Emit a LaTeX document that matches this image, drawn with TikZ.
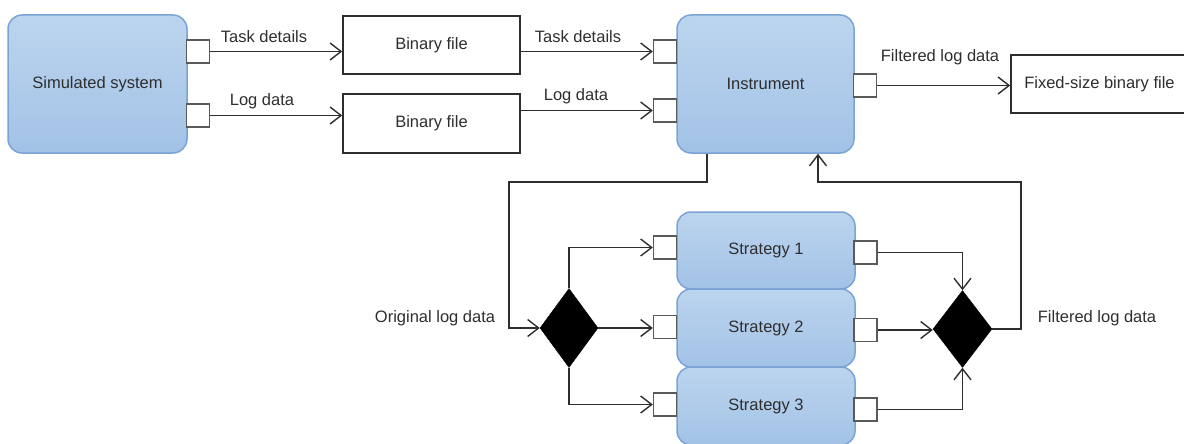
\documentclass[tikz,border=0pt]{standalone}
\usepackage{fontspec}
\setmainfont{Liberation Sans}
\usetikzlibrary{arrows.meta,shapes.geometric}
\definecolor{boxtop}{HTML}{BCD5EE}
\definecolor{boxbot}{HTML}{A2C2E6}
\definecolor{boxline}{HTML}{7BA3D5}
\definecolor{ink}{HTML}{2E2E2E}
\definecolor{portline}{HTML}{5A5A5A}
\tikzset{
  block/.style={draw=boxline, line width=1.5pt, rounded corners=14pt,
    top color=boxtop, bottom color=boxbot, text=ink, inner sep=0pt},
  filebox/.style={draw=ink, line width=1.6pt, fill=white, text=ink, inner sep=0pt},
  port/.style={draw=portline, line width=1.4pt, fill=white, minimum size=23pt, inner sep=0pt},
  junction/.style={diamond, fill=black, draw=black, inner sep=0pt},
  arr/.style={draw=ink, line width=1.6pt, -{Straight Barb[length=11pt,width=17pt,line width=1.4pt]}},
  lbl/.style={text=ink, anchor=base, inner sep=0pt}
}
\begin{document}
\begin{tikzpicture}[x=1pt,y=-1pt,font=\fontsize{16.5}{19}\selectfont]
\clip (0,0) rectangle (1184,444);
\useasboundingbox (0,0) rectangle (1184,444);

% main blocks
\node[block, minimum width=179pt, minimum height=138pt] (sim) at (97.5,84) {Simulated system};
\node[block, minimum width=177pt, minimum height=138pt] (inst) at (765.5,84) {Instrument};
\node[block, minimum width=178pt, minimum height=77pt] (s1) at (766,250.5) {Strategy 1};
\node[block, minimum width=178pt, minimum height=78pt] (s2) at (766,328) {Strategy 2};
\node[block, minimum width=178pt, minimum height=78pt] (s3) at (766,406) {Strategy 3};

% files
\node[filebox, minimum width=177pt, minimum height=58pt] (bf1) at (431.5,45) {Binary file};
\node[filebox, minimum width=177pt, minimum height=59pt] (bf2) at (431.5,123.5) {Binary file};
\node[filebox, minimum width=177pt, minimum height=58pt] (fix) at (1099.5,84) {Fixed-size binary file};

% ports
\node[port] (ps1) at (198,51.5) {};
\node[port] (ps2) at (198,115.5) {};
\node[port] (pi1) at (665,51.5) {};
\node[port] (pi2) at (665,110.5) {};
\node[port] (pio) at (865,85.5) {};
\node[port] (pl1) at (665,247.5) {};
\node[port] (pl2) at (665,327) {};
\node[port] (pl3) at (665,404.5) {};
\node[port] (pr1) at (865.5,252.5) {};
\node[port] (pr2) at (865.5,330) {};
\node[port] (pr3) at (865.5,409.5) {};

% junctions
\node[junction, minimum width=58pt, minimum height=79pt] (dl) at (569,328) {};
\node[junction, minimum width=59pt, minimum height=77pt] (dr) at (962.5,329) {};

% bend points of the loop
\coordinate (b1) at (509,182);
\coordinate (b2) at (1021,182);

% connectors
\draw[arr] (ps1.east) -- (ps1.east -| bf1.west);
\draw[arr] (ps2.east) -- (ps2.east -| bf2.west);
\draw[arr] (pi1.west -| bf1.east) -- (pi1.west);
\draw[arr] (pi2.west -| bf2.east) -- (pi2.west);
\draw[arr] (pio.east) -- (pio.east -| fix.west);

\draw[arr] ([xshift=-58.5pt]inst.south) |- (b1) |- (dl.west);
\draw[arr] (dl.north) |- (pl1.west);
\draw[arr] (dl.east) -- (dl.east -| pl2.west);
\draw[arr] (dl.south) |- (pl3.west);

\draw[arr] (pr1.east) -| (dr.north);
\draw[arr] (pr2.east) -- (pr2.east -| dr.west);
\draw[arr] (pr3.east) -| (dr.south);
\draw[arr] (dr.east) -| (b2) -| ([xshift=52.5pt]inst.south);

% labels
\node[lbl] (t1) at (264,43) {Task details};
\node[lbl] (t2) at (262,106) {Log data};
\node[lbl] (t3) at (578,43) {Task details};
\node[lbl] (t4) at (576,100.5) {Log data};
\node[lbl] (t5) at (940,62) {Filtered log data};
\node[lbl] (t6) at (435,322) {Original log data};
\node[lbl] (t7) at (1097,322) {Filtered log data};
\end{tikzpicture}
\end{document}
